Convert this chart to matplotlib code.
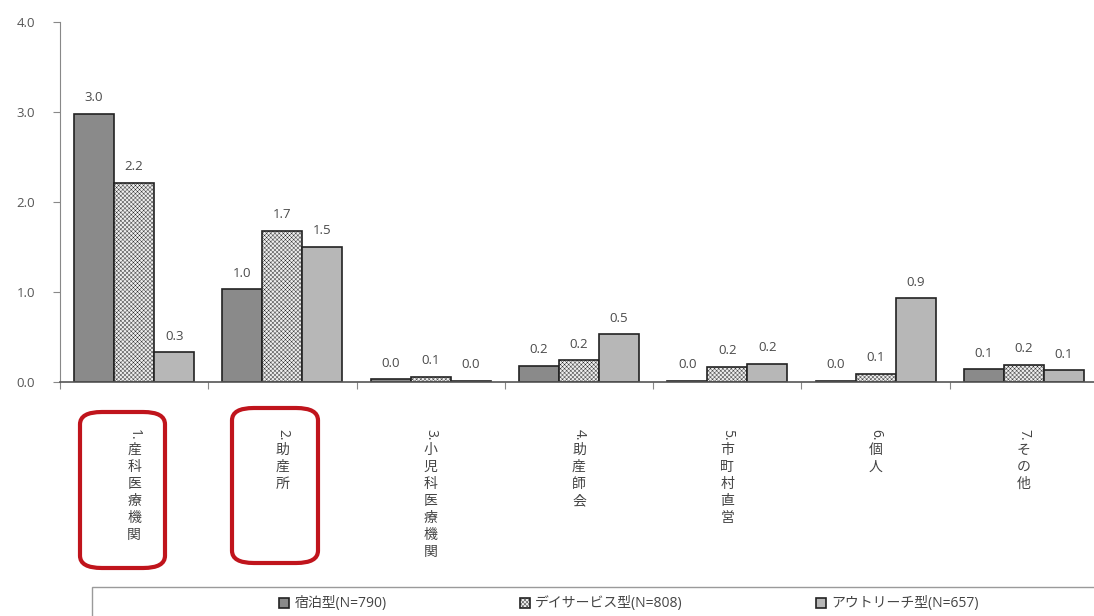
import matplotlib
matplotlib.use("Agg")
import matplotlib.pyplot as plt
from matplotlib.patches import FancyBboxPatch, Rectangle
import numpy as np

plt.rcParams['font.family'] = ['Open Sans', 'Noto Sans CJK JP', 'DejaVu Sans']
plt.rcParams['hatch.color'] = '#b0b0b0'
plt.rcParams['hatch.linewidth'] = 0.3

# 施設種別ごとの平均値
categories = ['1.産科医療機関', '2.助産所', '3.小児科医療機関', '4.助産師会',
              '5.市町村直営', '6.個人', '7.その他']
series_names = ['宿泊型(N=790)', 'デイサービス型(N=808)', 'アウトリーチ型(N=657)']
shukuhaku = [2.98, 1.03, 0.03, 0.18, 0.01, 0.01, 0.14]
day_service = [2.21, 1.68, 0.06, 0.24, 0.17, 0.09, 0.19]
outreach = [0.33, 1.50, 0.01, 0.53, 0.20, 0.93, 0.13]
highlighted = [0, 1]

W, H = 1094, 616
fig = plt.figure(figsize=(W / 100, H / 100), dpi=100)
ax = fig.add_axes([60 / W, (H - 382) / H, (1098 - 60) / W, 360 / H])

x = np.arange(len(categories))
bw = 0.27
styles = [
    dict(color='#8a8a8a', hatch=None),
    dict(color='#eeeeee', hatch='xxxxxxxx'),
    dict(color='#b7b7b7', hatch=None),
]
containers = []
for k, (vals, st) in enumerate(zip([shukuhaku, day_service, outreach], styles)):
    bars = ax.bar(x + (k - 1) * bw, vals, bw, color=st['color'], hatch=st['hatch'],
                  edgecolor='#222222', linewidth=1.2, label=series_names[k])
    containers.append(bars)
    for b, v in zip(bars, vals):
        ax.annotate(f'{v:.1f}', (b.get_x() + b.get_width() / 2, v),
                    xytext=(0, 7), textcoords='offset points',
                    ha='center', va='bottom', fontsize=9.5, color='#4a4a4a')

ax.set_xlim(-0.5, len(categories) - 0.5)
ax.set_ylim(0, 4)
ax.set_yticks([0, 1, 2, 3, 4])
ax.set_yticklabels([f'{v:.1f}' for v in [0, 1, 2, 3, 4]], fontsize=9.5, color='#555555')
ax.set_xticks(np.arange(len(categories) + 1) - 0.5)
ax.set_xticklabels([])
ax.tick_params(axis='y', length=5, color='#888888', pad=13)
ax.tick_params(axis='x', length=5, color='#888888', direction='out')
for s in ['top', 'right']:
    ax.spines[s].set_visible(False)
ax.spines['left'].set_color('#888888')
ax.spines['bottom'].set_color('#555555')
ax.spines['bottom'].set_linewidth(1.2)

# 縦書きの項目ラベル: 番号は横倒し、漢字は正立
for i, lab in enumerate(categories):
    num, name = lab.split('.', 1)
    ax.annotate(num + '.', (i, 0), xycoords=('data', 'axes fraction'),
                xytext=(0, -34), textcoords='offset points', rotation=-90,
                ha='center', va='top', fontsize=10, color='#444444')
    ax.annotate('\n'.join(name), (i, 0), xycoords=('data', 'axes fraction'),
                xytext=(0, -44), textcoords='offset points',
                ha='center', va='top', fontsize=10, color='#444444', linespacing=1.18)

# 強調枠
for i, (bx0, by0, bx1, by1) in zip(highlighted, [(80, 412, 165, 568), (232, 408, 318, 563)]):
    fig.patches.append(FancyBboxPatch((bx0 / W, 1 - by1 / H), (bx1 - bx0) / W, (by1 - by0) / H,
                                      boxstyle='round,pad=0,rounding_size=0.02',
                                      transform=fig.transFigure, fill=False,
                                      edgecolor='#c0141c', linewidth=3))

# 凡例
fig.patches.append(Rectangle((92 / W, -0.05), (1100 - 92) / W, 0.05 + (H - 587) / H,
                             transform=fig.transFigure, fill=False,
                             edgecolor='#9a9a9a', linewidth=1))
fig.legend(handles=containers, labels=series_names, loc='center',
           bbox_to_anchor=(629 / W, 1 - 604 / H), ncol=3, frameon=False,
           fontsize=10, handlelength=0.7, handleheight=0.7, handletextpad=0.4,
           columnspacing=9.6, labelcolor='#444444')

fig.savefig('out.png', dpi=100)
